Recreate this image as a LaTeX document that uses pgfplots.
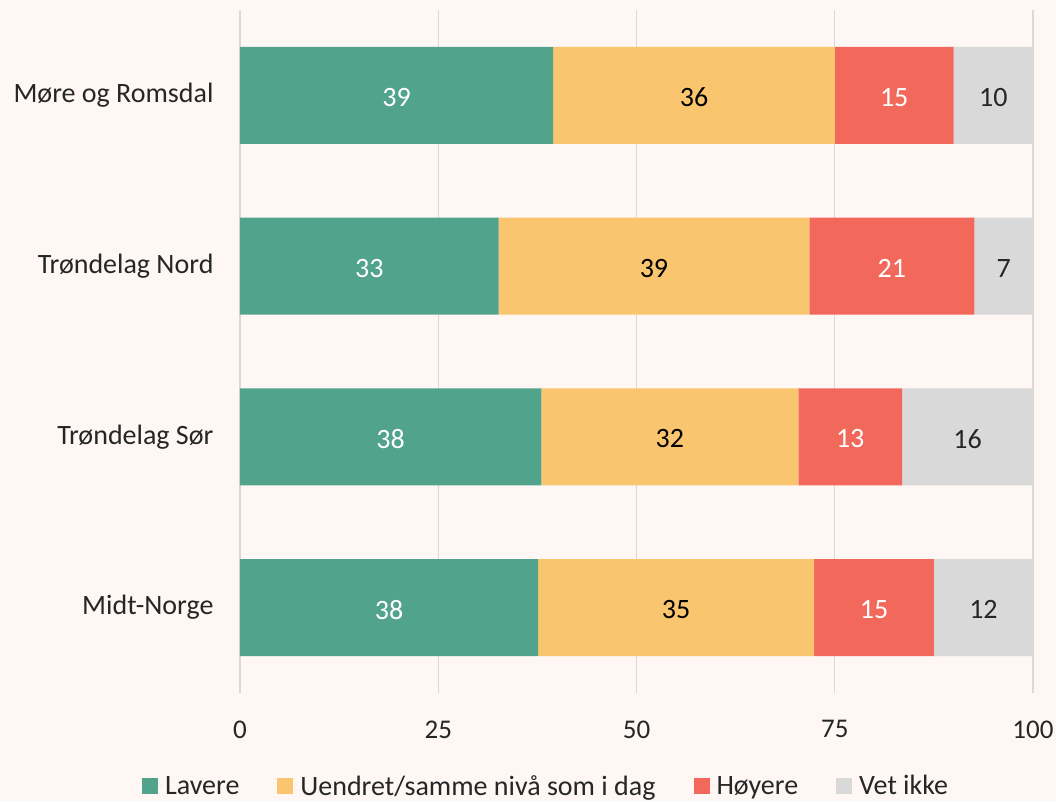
\documentclass[border=0pt]{standalone}
\usepackage{pgfplots}
\pgfplotsset{compat=1.18}
\usepackage{pgfplotstable}
\usepackage{fontspec}
\setmainfont{Carlito}
\definecolor{bg}{HTML}{FEF7F4}
\definecolor{cgreen}{HTML}{52A38C}
\definecolor{corange}{HTML}{F9C56F}
\definecolor{cred}{HTML}{F2695C}
\definecolor{cgrey}{HTML}{D9D9D9}
\definecolor{txt}{HTML}{262626}
\pgfplotstableread{
y lav lavL uen uenL hoy hoyL vet vetL
0 39.5 39 35.5 36 15.0 15 10.0 10
1 32.6 33 39.2 39 20.8 21 7.4 7
2 38.0 38 32.4 32 13.1 13 16.5 16
3 37.6 38 34.8 35 15.1 15 12.5 12
}\datatable
\begin{document}
\begin{tikzpicture}
\fill[bg] (-240pt,-108pt) rectangle (816pt,693pt);
\useasboundingbox (-240pt,-108pt) rectangle (816pt,693pt);
\begin{axis}[
  at={(0,0)}, anchor=south west,
  width=793pt, height=683pt, scale only axis,
  xbar stacked, bar width=97pt,
  xmin=0, xmax=100, ymin=-0.5, ymax=3.5,
  y dir=reverse,
  ytick={0,1,2,3},
  yticklabels={Møre og Romsdal, Trøndelag Nord, Trøndelag Sør, Midt-Norge},
  xtick={0,25,50,75,100},
  xmajorgrids, grid style={draw=cgrey, line width=1.3pt},
  axis line style={draw=none},
  major tick length=0pt,
  tick label style={font=\fontsize{28}{32}\selectfont, text=txt},
  xticklabel style={font=\fontsize{27}{32}\selectfont, yshift=-24pt},
  /pgf/number format/assume math mode=true,
  yticklabel style={xshift=-23pt},
  legend style={at={(0.386,-0.136)}, anchor=center, draw=none, fill=none,
    legend columns=4, font=\fontsize{28}{32}\selectfont, text=txt,
    /tikz/every even column/.append style={column sep=36pt}},
  legend image code/.code={\fill[#1] (0pt,-8pt) rectangle (16pt,8pt); \path (0pt,0pt) -- (21pt,0pt);},
  nodes near coords={\pgfplotspointmeta},
  point meta=explicit symbolic,
  nodes near coords style={anchor=center, yshift=-2pt, font=\fontsize{28}{32}\selectfont},
]
\addplot[fill=cgreen, draw=none, nodes near coords style={text=white}]
  table[x=lav, y=y, meta=lavL] {\datatable};
\addplot[fill=corange, draw=none, nodes near coords style={text=black}]
  table[x=uen, y=y, meta=uenL] {\datatable};
\addplot[fill=cred, draw=none, nodes near coords style={text=white}]
  table[x=hoy, y=y, meta=hoyL] {\datatable};
\addplot[fill=cgrey, draw=none, nodes near coords style={text=txt}]
  table[x=vet, y=y, meta=vetL] {\datatable};
\legend{Lavere, Uendret/samme nivå som i dag, Høyere, Vet ikke}
\end{axis}
\end{tikzpicture}
\end{document}
